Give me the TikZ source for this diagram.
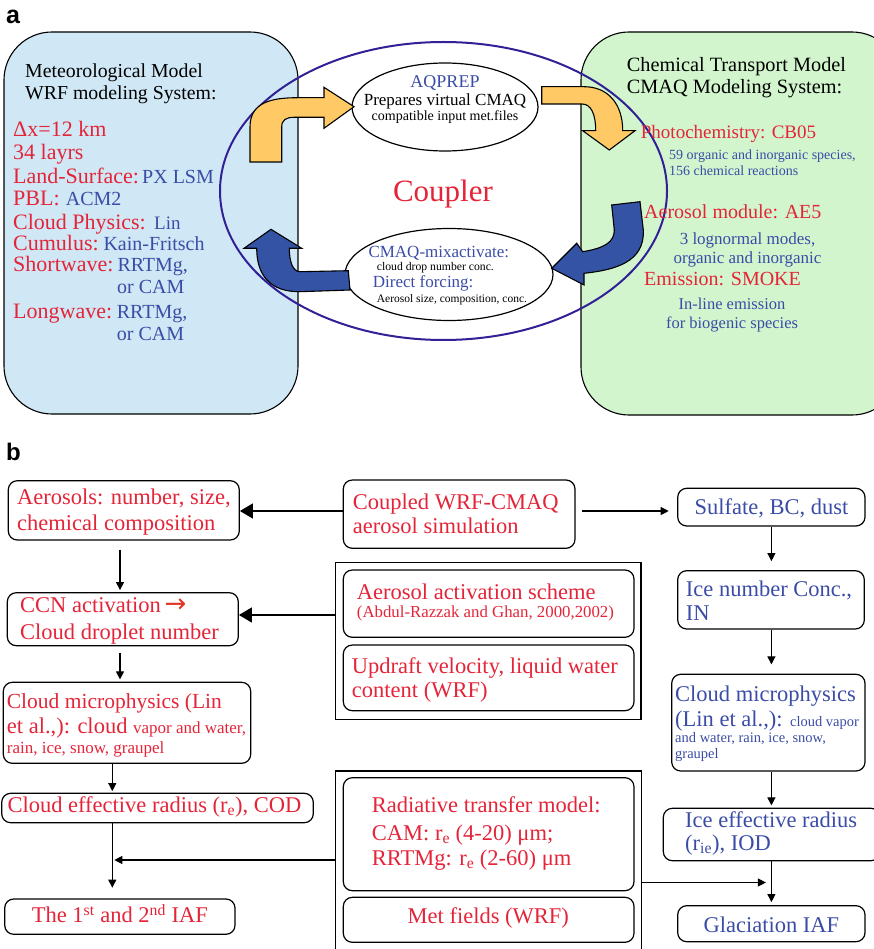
\documentclass[tikz,border=0pt]{standalone}
\usepackage{fontspec}
\setmainfont{Liberation Serif}
\newfontfamily\labelfont{Liberation Sans}
\newfontfamily\symfont{DejaVu Sans}
\usetikzlibrary{fit,shapes.geometric,arrows.meta}

\definecolor{tred}{RGB}{228,36,56}
\definecolor{tblue}{RGB}{58,76,166}
\definecolor{arrred}{RGB}{226,52,36}
\definecolor{boxblue}{RGB}{208,232,245}
\definecolor{boxgreen}{RGB}{210,245,206}
\definecolor{arryel}{RGB}{255,202,102}
\definecolor{arrblue}{RGB}{52,83,165}
\definecolor{ringc}{RGB}{50,32,150}

\newcommand\fs[1]{\fontsize{#1}{#1}\selectfont}
% a rounded box spanning two corner points
\newcommand\fitbox[6]{\node[#1, fit={(#3,#4) (#5,#6)}] (#2) {};}

\begin{document}
\begin{tikzpicture}[x=1pt,y=-1pt,
  lt/.style={inner sep=0pt, anchor=base west},
  ct/.style={inner sep=0pt, anchor=base},
  modelbox/.style={draw=black, line width=1.1pt, rounded corners=48pt, inner sep=0pt},
  rbox/.style={draw=black, line width=1.2pt, rounded corners=9pt, inner sep=0pt},
  gbox/.style={draw=black, line width=1.2pt, inner sep=0pt},
  blockarrow/.style={draw=black, line width=1.1pt, line join=miter},
  arr/.style={-{Triangle[length=8pt,width=8pt]}, line width=1.1pt},
  bigarr/.style={-{Triangle[length=13pt,width=15pt]}, line width=1.3pt},
  red22/.style={text=tred, font=\fs{22}},
  blue20/.style={text=tblue, font=\fs{20}},
  txb/.style={font=\fs{22.5}},
]
\useasboundingbox (0,0) rectangle (874,949);
\clip (0,0) rectangle (874,949);

% ---------------- panel a ----------------
\node[lt, font=\labelfont\bfseries\fs{25}] (labA) at (6,23.5) {a};

% model boxes
\fitbox{modelbox, fill=boxblue}{wrf}{4}{32}{298}{414}
\fitbox{modelbox, fill=boxgreen}{cmaq}{581}{32}{900}{415}

% coupler ring and its two ellipses
\node[ellipse, draw=ringc, line width=2pt, minimum width=447pt, minimum height=298pt, inner sep=0pt] (ring) at (443.5,191) {};
\node[ellipse, draw=black, line width=1.2pt, minimum width=186pt, minimum height=88pt, inner sep=0pt] (aqprep) at (445,107) {};
\node[ellipse, draw=black, line width=1.2pt, minimum width=208pt, minimum height=92pt, inner sep=0pt] (mixact) at (449,274.5) {};

% block arrows
\fill[arryel, blockarrow] (250,162) -- (250,127)
  .. controls (250,102) and (272,97.7) .. (298,97.7) -- (324,97.7) -- (324,87.3)
  -- (354,106.7) -- (324,128.3) -- (324,117.3) -- (294,117.3)
  .. controls (286,117.3) and (281.7,120) .. (281.7,127) -- (281.7,162) -- cycle;
\fill[arryel, blockarrow] (541.7,86.7) -- (584,86.7)
  .. controls (608,86.7) and (622.7,104) .. (622.7,130.7) -- (635,130.7)
  -- (609.3,150) -- (582.7,130.7) -- (595.7,130.7)
  .. controls (595.7,114) and (591,104) .. (582,104) -- (541.7,104) -- cycle;
\fill[arrblue, blockarrow] (611.7,205) -- (640,201.7) -- (643.3,230)
  .. controls (645,262) and (615,270) .. (584,273.3) -- (584,285)
  -- (551.7,268.3) -- (576.7,243.3) -- (582.7,251.7)
  .. controls (605,248) and (614.3,242) .. (614.3,230) -- cycle;
\fill[arrblue, blockarrow] (348.3,270.7) -- (350,290) -- (300,291.7)
  .. controls (270,292) and (256.7,275) .. (256.7,248.3) -- (244,248.3)
  -- (271,229.3) -- (301.7,248.3) -- (289.3,248.3)
  .. controls (289.3,262) and (293,271.7) .. (300,271.7) -- cycle;

% WRF texts
\node[lt, font=\fs{19.8}] (wrfA) at (25,78) {Meteorological Model};
\node[lt, font=\fs{19.8}] (wrfB) at (25,100) {WRF modeling System:};
\node[lt, red22] (wDx) at (13,136.7) {Δx=12 km};
\node[lt, red22] (wLay) at (13,159.5) {34 layrs};
\node[lt, red22] (wLs) at (13,183.3) {Land-Surface:};
\node[lt, blue20] (wLsV) at (142,183.3) {PX LSM};
\node[lt, red22] (wPbl) at (13,205.7) {PBL:};
\node[lt, blue20] (wPblV) at (65.7,205.7) {ACM2};
\node[lt, red22] (wCp) at (13,229.3) {Cloud Physics:};
\node[lt, blue20, font=\fs{19}] (wCpV) at (154,229.3) {Lin};
\node[lt, red22] (wCu) at (13,250.7) {Cumulus:};
\node[lt, blue20] (wCuV) at (103.3,250.7) {Kain-Fritsch};
\node[lt, red22] (wSw) at (13,271.7) {Shortwave:};
\node[lt, blue20] (wSwV) at (117.3,271.7) {RRTMg,};
\node[lt, blue20] (wSwW) at (117,294) {or CAM};
\node[lt, red22] (wLw) at (13,318.3) {Longwave:};
\node[lt, blue20] (wLwV) at (116.7,318.3) {RRTMg,};
\node[lt, blue20] (wLwW) at (116.7,340) {or CAM};

% CMAQ texts
\node[lt, font=\fs{20.3}] (cmA) at (626.7,71.7) {Chemical Transport Model};
\node[lt, font=\fs{20.3}] (cmB) at (626.7,93.3) {CMAQ Modeling System:};
\node[lt, text=tred, font=\fs{19}] (cPh) at (640.7,138.3) {Photochemistry: CB05};
\node[lt, text=tblue, font=\fs{14}] (cPhA) at (669,160) {59 organic and inorganic species,};
\node[lt, text=tblue, font=\fs{14}] (cPhB) at (669,176) {156 chemical reactions};
\node[lt, text=tred, font=\fs{20}] (cAe) at (644,219) {Aerosol module: AE5};
\node[ct, text=tblue, font=\fs{17}] (cAeA) at (747.5,245) {3 lognormal modes,};
\node[ct, text=tblue, font=\fs{17}] (cAeB) at (747.5,263.3) {organic and inorganic};
\node[lt, text=tred, font=\fs{20}] (cEm) at (644,286) {Emission: SMOKE};
\node[ct, text=tblue, font=\fs{16.5}] (cEmA) at (732,309.3) {In-line emission};
\node[ct, text=tblue, font=\fs{16.5}] (cEmB) at (732,328.3) {for biogenic species};

% coupler texts
\node[ct, text=tred, font=\fs{31}] (cpl) at (443,201.7) {Coupler};
\node[ct, text=tblue, font=\fs{18}] (aqA) at (445,87.7) {AQPREP};
\node[ct, font=\fs{17}] (aqB) at (445,105.7) {Prepares virtual CMAQ};
\node[ct, font=\fs{14}] (aqC) at (445,120.7) {compatible input met.files};
\node[lt, text=tblue, font=\fs{17}] (mxA) at (368.3,257.3) {CMAQ-mixactivate:};
\node[lt, font=\fs{11.7}] (mxB) at (376.7,271) {cloud drop number conc.};
\node[lt, text=tblue, font=\fs{17}] (mxC) at (372.7,287.7) {Direct forcing:};
\node[lt, font=\fs{11.5}] (mxD) at (376.7,302.3) {Aerosol size, composition, conc.};

% ---------------- panel b ----------------
\node[lt, font=\labelfont\bfseries\fs{24}] (labB) at (6,460) {b};

% boxes
\fitbox{rbox}{aero}{8.3}{480.7}{239.3}{540}
\fitbox{rbox}{coupled}{343.3}{480}{575}{548.3}
\fitbox{rbox}{sulf}{677.7}{488.3}{865}{526}
\fitbox{rbox}{ccn}{7.3}{592.7}{238.3}{645.7}
\fitbox{gbox}{grpA}{335.7}{562.7}{641}{719.3}
\fitbox{rbox}{act}{343.3}{570}{634}{637.3}
\fitbox{rbox}{updr}{343.3}{645}{634}{710.7}
\fitbox{rbox}{ice}{677.7}{570.7}{864.3}{629}
\fitbox{rbox}{cmL}{3.3}{682.3}{250.7}{763.3}
\fitbox{rbox}{cmR}{671.7}{674.3}{865}{771}
\fitbox{rbox}{cer}{1.7}{793.3}{313.3}{822.7}
\fitbox{gbox}{grpB}{335.7}{771}{641.7}{960}
\fitbox{rbox}{rad}{343.3}{777.7}{634}{890.7}
\fitbox{rbox}{met}{343.3}{897.3}{634}{942.3}
\fitbox{rbox}{ier}{663.3}{808.3}{880}{860.7}
\fitbox{rbox}{iaf}{4.7}{899}{235}{934.3}
\fitbox{rbox}{glac}{677.7}{905.7}{865}{941.7}

% connector levels and columns
\coordinate (lvA) at (0,511);
\coordinate (lvB) at (0,615);
\coordinate (lvC) at (0,860);
\coordinate (lvD) at (0,882.5);
\coordinate (colA) at (120,0);
\coordinate (colB) at (112.3,0);
\coordinate (colR) at (771.4,0);

% box texts, left column
\node[lt, text=tred, txb] (aeroA) at (17,504) {Aerosols: number, size,};
\node[lt, text=tred, txb] (aeroB) at (17,530) {chemical composition};
\node[lt, text=tred, txb] (ccnA) at (20,612.7) {CCN activation\,{\symfont\color{arrred}\fs{26}→}};
\node[lt, text=tred, txb] (ccnB) at (20,639.3) {Cloud droplet number};
\node[lt, text=tred, font=\fs{21.5}] (cmLA) at (6.7,708.3) {Cloud microphysics (Lin};
\node[lt, text=tred, txb] (cmLB) at (6.7,733.3) {et al.,): cloud {\fs{17}vapor and water,}};
\node[lt, text=tred, font=\fs{17}] (cmLC) at (6.7,753.3) {rain, ice, snow, graupel};
\node[lt, text=tred, txb] (cerA) at (7.3,812.7) {Cloud effective radius (r\textsubscript{e}), COD};
\node[ct, text=tred, txb] (iafA) at (119.8,922.7) {The 1\textsuperscript{st} and 2\textsuperscript{nd} IAF};

% box texts, middle column
\node[lt, text=tred, txb] (cplA) at (352.7,509) {Coupled WRF-CMAQ};
\node[lt, text=tred, txb] (cplB) at (352.7,533.3) {aerosol simulation};
\node[lt, text=tred, txb] (actA) at (356.7,599) {Aerosol activation scheme};
\node[lt, text=tred, font=\fs{16.8}] (actB) at (356.7,617.7) {(Abdul-Razzak and Ghan, 2000,2002)};
\node[lt, text=tred, txb] (updA) at (351.7,673.3) {Updraft velocity, liquid water};
\node[lt, text=tred, txb] (updB) at (351.7,697.7) {content (WRF)};
\node[lt, text=tred, txb] (radA) at (371.7,812.7) {Radiative transfer model:};
\node[lt, text=tred, txb] (radB) at (371.7,840) {CAM: r\textsubscript{e} (4-20) μm;};
\node[lt, text=tred, txb] (radC) at (371.7,865) {RRTMg: r\textsubscript{e} (2-60) μm};
\node[ct, text=tred, txb] (metA) at (488.3,923.3) {Met fields (WRF)};

% box texts, right column
\node[ct, text=tblue, txb] (sulfA) at (771.4,514) {Sulfate, BC, dust};
\node[lt, text=tblue, txb] (iceA) at (685.7,596) {Ice number Conc.,};
\node[lt, text=tblue, txb] (iceB) at (685.7,620) {IN};
\node[lt, text=tblue, txb] (cmRA) at (675,701.7) {Cloud microphysics};
\node[lt, text=tblue, txb] (cmRB) at (675,726.7) {(Lin et al.,): {\fs{14.5}cloud vapor}};
\node[lt, text=tblue, font=\fs{14.5}] (cmRC) at (675,742.7) {and water, rain, ice, snow,};
\node[lt, text=tblue, font=\fs{14.5}] (cmRD) at (675,758.3) {graupel};
\node[lt, text=tblue, txb] (ierA) at (685,827.3) {Ice effective radius};
\node[lt, text=tblue, txb] (ierB) at (685,850) {(r\textsubscript{ie}), IOD};
\node[ct, text=tblue, txb] (glacA) at (771.4,932.3) {Glaciation IAF};

% connectors
\draw[bigarr] (coupled.west |- lvA) -- (aero.east |- lvA);
\draw[arr, shorten <=6.7pt, shorten >=8.4pt] (coupled.east |- lvA) -- (sulf.west |- lvA);
\draw[bigarr] (grpA.west |- lvB) -- (ccn.east |- lvB);
\draw[arr, shorten <=9.3pt, shorten >=2pt] (aero.south -| colA) -- (ccn.north -| colA);
\draw[arr, shorten <=6.6pt, shorten >=2.3pt] (ccn.south -| colA) -- (cmL.north -| colA);
\draw[arr, shorten >=1.6pt] (cmL.south -| colB) -- (cer.north -| colB);
\draw[arr, shorten >=10.7pt] (cer.south -| colB) -- (iaf.north -| colB);
\draw[arr, shorten >=2pt] (grpB.west |- lvC) -- (colB |- lvC);
\draw[arr, shorten >=9pt] (sulf.south -| colR) -- (ice.north -| colR);
\draw[arr, shorten >=9.3pt] (ice.south -| colR) -- (cmR.north -| colR);
\draw[arr, shorten >=2.3pt] (cmR.south -| colR) -- (ier.north -| colR);
\draw[arr, shorten >=3pt] (ier.south -| colR) -- (glac.north -| colR);
\draw[arr, shorten >=5.5pt] (grpB.east |- lvD) -- (colR |- lvD);
\end{tikzpicture}
\end{document}
